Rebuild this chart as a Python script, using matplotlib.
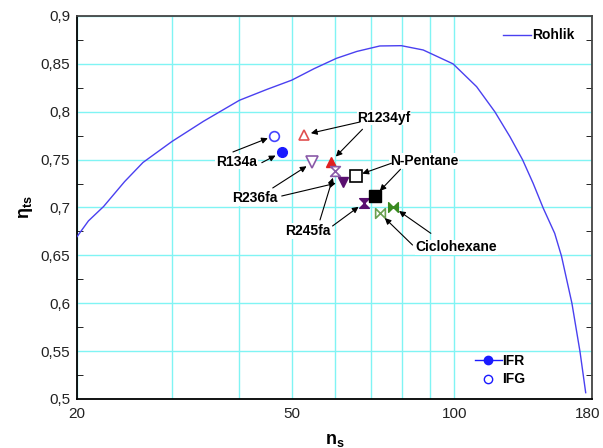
import matplotlib
matplotlib.use('Agg')
import matplotlib.pyplot as plt
from matplotlib.path import Path
from matplotlib.lines import Line2D
from matplotlib.transforms import ScaledTranslation

plt.rcParams['font.family'] = ['Liberation Sans', 'DejaVu Sans']
plt.rcParams['mathtext.fontset'] = 'custom'
plt.rcParams['mathtext.rm'] = 'Liberation Sans'
plt.rcParams['mathtext.it'] = 'Liberation Sans:italic'
plt.rcParams['mathtext.bf'] = 'Liberation Sans:bold'

# Rohlik curve
rohlik_ns = [20, 21, 22.4, 24.5, 26.5, 30, 34.3, 40, 45, 50, 55, 60.5, 66, 72.8, 79.8,
             87.6, 99.5, 110, 118.9, 126.8, 133.8, 140, 146.2, 153.5, 158, 165.2, 171, 175.2]
rohlik_eta = [0.6695, 0.686, 0.701, 0.727, 0.747, 0.769, 0.790, 0.812, 0.8234, 0.833,
              0.845, 0.8558, 0.863, 0.8687, 0.869, 0.8645, 0.850, 0.8262, 0.800, 0.774,
              0.750, 0.7253, 0.6992, 0.673, 0.6493, 0.600, 0.5494, 0.5066]

# fluids: IFR (filled) and IFG (open) points
fluids = ['R134a', 'R1234yf', 'R236fa', 'R245fa', 'N-Pentane', 'Ciclohexane']
ifr_ns = [47.9, 59.1, 62.1, 68.1, 71.3, 77.1]
ifr_eta = [0.7576, 0.748, 0.727, 0.705, 0.712, 0.7005]
ifg_ns = [46.4, 52.7, 54.6, 60.1, 65.7, 72.8]
ifg_eta = [0.775, 0.776, 0.747, 0.738, 0.733, 0.694]

hourglass = Path([(-1, 1), (1, 1), (-1, -1), (1, -1), (-1, 1)],
                 [Path.MOVETO, Path.LINETO, Path.LINETO, Path.LINETO, Path.CLOSEPOLY])
bowtie = Path([(-1, 1), (1, -1), (1, 1), (-1, -1), (-1, 1)],
              [Path.MOVETO, Path.LINETO, Path.LINETO, Path.LINETO, Path.CLOSEPOLY])

ifr_style = [('o', '#1a1aff', 7), ('^', '#e02020', 7), ('v', '#5a1070', 7),
             (hourglass, '#5a1070', 7), ('s', 'black', 8), (bowtie, '#3a8a20', 7)]
ifg_style = [('o', '#4444ff', 7), ('^', '#e05050', 7), ('v', '#8a5aa8', 8),
             (hourglass, '#8a5aa8', 7), ('s', 'black', 9), (bowtie, '#6aa050', 7)]

# label position, and arrow starts for (IFG, IFR) arrows
label_pos = [(39.5, 0.7478), (74.1, 0.7938), (42.7, 0.7096), (53.6, 0.6755),
             (87.9, 0.7486), (101, 0.6584)]
arrow_start_ifg = [(38.9, 0.758), (66.9, 0.7893), (46.1, 0.7204), (56.4, 0.687),
                   (76.5, 0.7462), (83.7, 0.6608)]
arrow_start_ifr = [(44.0, 0.7468), (67.6, 0.7817), (47.9, 0.712), (59.5, 0.6807),
                   (79.5, 0.7399), (90.5, 0.673)]

fig = plt.figure(figsize=(6.03, 4.48), dpi=100)
ax = fig.add_axes([0.1277, 0.1094, 0.8541, 0.8549])

ax.set_xscale('log')
ax.set_xlim(20, 180)
ax.set_ylim(0.5, 0.9)

line_rohlik, = ax.plot(rohlik_ns, rohlik_eta, color='#4a40f0', lw=1.0, label='Rohlik', zorder=3)

for i in range(len(fluids)):
    m, c, s = ifr_style[i]
    ax.plot(ifr_ns[i], ifr_eta[i], marker=m, color=c, markersize=s, linestyle='none', zorder=5)
    m, c, s = ifg_style[i]
    ax.plot(ifg_ns[i], ifg_eta[i], marker=m, markerfacecolor='white', markeredgecolor=c,
            markeredgewidth=1.2, markersize=s, linestyle='none', zorder=5)

    ax.text(label_pos[i][0], label_pos[i][1], fluids[i], fontsize=10, fontweight='bold',
            ha='center', va='center', zorder=6,
            bbox=dict(facecolor='white', edgecolor='none', pad=0.5))
    ap = dict(arrowstyle='-|>', color='black', lw=0.8, mutation_scale=9, shrinkA=0, shrinkB=5)
    ax.annotate('', xy=(ifg_ns[i], ifg_eta[i]), xytext=arrow_start_ifg[i], arrowprops=ap, zorder=6)
    ax.annotate('', xy=(ifr_ns[i], ifr_eta[i]), xytext=arrow_start_ifr[i], arrowprops=ap, zorder=6)

# axes, ticks, grid
ax.set_xticks([20, 50, 100, 180])
ax.set_xticklabels(['20', '50', '100', '180'])
ax.set_xticks([30, 40, 60, 70, 80, 90], minor=True)
ax.set_xticklabels([], minor=True)
ax.set_yticks([0.5, 0.55, 0.6, 0.65, 0.7, 0.75, 0.8, 0.85, 0.9])
ax.set_yticklabels(['0,5', '0,55', '0,6', '0,65', '0,7', '0,75', '0,8', '0,85', '0,9'])
ax.set_yticks([0.525, 0.575, 0.625, 0.675, 0.725, 0.775, 0.825, 0.875], minor=True)
ax.tick_params(axis='x', which='both', length=0, labelsize=11, pad=6, colors='#222222')
ax.tick_params(axis='y', which='major', length=0, labelsize=11, pad=5, colors='#222222')
ax.tick_params(axis='y', which='minor', direction='in', length=4, left=True, right=True)
ax.xaxis.grid(True, which='both', color='#80f4f4', lw=1.0)
ax.yaxis.grid(True, which='major', color='#80f4f4', lw=1.0)
ax.set_axisbelow(True)

# keep the "180" label inside the picture
last = ax.get_xticklabels()[-1]
last.set_transform(last.get_transform() + ScaledTranslation(-3 / 72, 0, fig.dpi_scale_trans))

for side in ['left', 'bottom']:
    ax.spines[side].set_linewidth(1.3)
    ax.spines[side].set_color('black')
for side in ['top', 'right']:
    ax.spines[side].set_linewidth(1.3)
    ax.spines[side].set_color('#444444')

ax.set_xlabel(r'$\mathbf{n_s}$', fontsize=13, labelpad=8)
ax.set_ylabel(r'$\mathbf{\eta_{ts}}$', fontsize=13, labelpad=4)

leg1 = ax.legend(handles=[line_rohlik], loc='upper right', bbox_to_anchor=(0.99, 1.0),
                 frameon=False, handlelength=2.0, handletextpad=0.1,
                 prop={'weight': 'bold', 'size': 10})
ax.add_artist(leg1)
h_ifr = Line2D([], [], color='#1a1aff', marker='o', markersize=6, lw=1.0)
h_ifg = Line2D([], [], color='#1a1aff', marker='o', markerfacecolor='white', markersize=6,
               linestyle='none')
ax.legend(handles=[h_ifr, h_ifg], labels=['IFR', 'IFG'], loc='lower right',
          bbox_to_anchor=(0.895, 0.0), frameon=False, handlelength=2.0, handletextpad=0.0,
          labelspacing=0.3, prop={'weight': 'bold', 'size': 10})

plt.savefig('out.png', dpi=100)
